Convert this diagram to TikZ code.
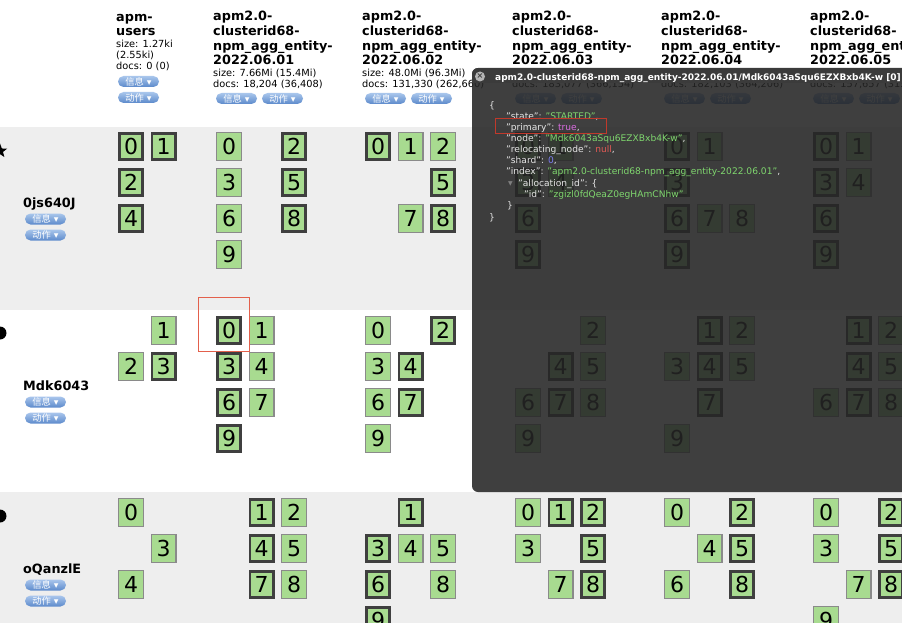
\documentclass[tikz,border=0pt]{standalone}
\usepackage{fontspec}
\setmainfont{DejaVu Sans}
\newfontfamily\cjk{Noto Sans CJK SC}
\usetikzlibrary{shapes.geometric}

\definecolor{rowgray}{HTML}{EEEEEE}
\definecolor{shardgreen}{HTML}{A8DB90}
\definecolor{primborder}{HTML}{3F3F3F}
\definecolor{replborder}{HTML}{8A8A8A}
\definecolor{btntop}{HTML}{A9C6EC}
\definecolor{btnbottom}{HTML}{5C8ACB}
\definecolor{panel}{HTML}{252525}
\definecolor{titlebar}{HTML}{3B3B3B}
\definecolor{closegray}{HTML}{B5B5B5}
\definecolor{jkey}{HTML}{E6E6E6}
\definecolor{jstr}{HTML}{7FD66E}
\definecolor{jbool}{HTML}{D86CE0}
\definecolor{jnull}{HTML}{E25A55}
\definecolor{jnum}{HTML}{7C7CF2}
\definecolor{markred}{HTML}{E3604C}
\definecolor{jsonred}{HTML}{C0392B}

\tikzset{
	shardp/.style = {draw = primborder, line width = 2.6pt, fill = shardgreen,
		minimum width = 23.4pt, minimum height = 26.4pt, inner sep = 0pt,
		font = \fontsize{22}{22}\selectfont},
	shardr/.style = {draw = replborder, line width = 1.2pt, fill = shardgreen,
		minimum width = 24.8pt, minimum height = 27.8pt, inner sep = 0pt,
		font = \fontsize{22}{22}\selectfont},
	btn/.style = {rounded corners = 5.5pt, top color = btntop, bottom color = btnbottom,
		minimum width = 41pt, minimum height = 11pt, inner sep = 0pt,
		text = white, font = \fontsize{9.3}{9.3}\selectfont},
	headtitle/.style = {anchor = base west, inner sep = 0pt, font = \fontsize{12.8}{14.7}\bfseries},
	headinfo/.style = {anchor = base west, inner sep = 0pt, font = \fontsize{9.8}{11}\selectfont},
	hostname/.style = {anchor = base west, inner sep = 0pt, font = \fontsize{12.8}{12.8}\bfseries},
	jline/.style = {anchor = base west, inner sep = 0pt, text = jkey, font = \fontsize{9.1}{9.1}\selectfont},
}

% name, left x, top y, grid columns, shard/type list
\newcommand\shardgrid[5]{%
	\foreach \s/\t in {#5}
		\node[shard\t] (#1-\s) at ({#2+13+32.5*mod(\s,#4)},{#3+14.5+36*int(\s/#4)}) {\s};
}
\newcommand\infolabel{{\cjk 信息}\hspace{3pt}▾}
\newcommand\actlabel{{\cjk 动作}\hspace{3pt}▾}

\begin{document}
\begin{tikzpicture}[x = 1pt, y = -1pt]
	\useasboundingbox (0,0) rectangle (902,623);
	\fill[white] (0,0) rectangle (902,623);
	\fill[rowgray] (0,127) rectangle (902,310);
	\fill[rowgray] (0,492) rectangle (902,623);

	% index headers
	\node[headtitle] (tu-1) at (116,22) {apm-};
	\node[headtitle] (tu-2) at (116,36) {users};
	\node[headinfo] (su-1) at (116,48) {size: 1.27ki};
	\node[headinfo] (su-2) at (116,58.5) {(2.55ki)};
	\node[headinfo] (su-3) at (116,69.5) {docs: 0 (0)};
	\node[btn] (infou) at (138.5,81.5) {\infolabel};
	\node[btn] (actu) at (138.5,97.5) {\actlabel};

	\foreach \x/\d [count=\i] in {216/01, 365/02, 515/03, 664/04, 813/05}{
		\foreach \l/\t [count=\k] in {21/apm2.0-, 36/clusterid68-, 50.5/npm\_agg\_entity-, 65/2022.06.\d}
			\node[headtitle] (t\i-\k) at (\x-3,\l) {\t};
		\node[btn] (info\i) at (\x+20.5,98.5) {\infolabel};
		\node[btn] (act\i) at (\x+66.5,98.5) {\actlabel};
	}
	\node[headinfo] (s1-1) at (213,77) {size: 7.66Mi (15.4Mi)};
	\node[headinfo] (s1-2) at (213,88) {docs: 18,204 (36,408)};
	\node[headinfo] (s2-1) at (362,77) {size: 48.0Mi (96.3Mi)};
	\node[headinfo] (s2-2) at (362,88) {docs: 131,330 (262,660)};
	\node[headinfo] (s3-2) at (512,88) {docs: 183,077 (366,154)};
	\node[headinfo] (s4-2) at (661,88) {docs: 182,103 (364,206)};
	\node[headinfo] (s5-2) at (810,88) {docs: 157,657 (315,};

	% nodes
	\node[star, star points = 5, star point ratio = 2.4, fill = black, minimum size = 15pt, inner sep = 0pt] (master) at (0,151) {};
	\node[circle, fill = black, minimum size = 13pt, inner sep = 0pt] (dotB) at (0,333) {};
	\node[circle, fill = black, minimum size = 13pt, inner sep = 0pt] (dotC) at (0,516) {};
	\foreach \y/\h [count=\i] in {207/0js640J, 390/Mdk6043, 573/oQanzlE}{
		\node[hostname] (host\i) at (23,\y) {\h};
		\node[btn] (hinfo\i) at (45.5,\y+12) {\infolabel};
		\node[btn] (hact\i) at (45.5,\y+28) {\actlabel};
	}

	% shards, row 0js640J
	\shardgrid{ra-u}{118}{132}{2}{0/p,1/p,2/p,4/p}
	\shardgrid{ra-1}{216}{132}{3}{0/r,2/p,3/r,5/p,6/r,8/p,9/r}
	\shardgrid{ra-2}{365}{132}{3}{0/p,1/r,2/r,5/p,7/r,8/p}
	\shardgrid{ra-3}{515}{132}{3}{0/p,1/r,3/p,4/r,6/p,9/p}
	\shardgrid{ra-4}{664}{132}{3}{0/p,1/r,3/p,6/p,7/r,8/r,9/p}
	\shardgrid{ra-5}{813}{132}{3}{0/p,1/r,3/p,4/r,6/p,9/p}
	% shards, row Mdk6043
	\shardgrid{rb-u}{118}{316}{2}{1/r,2/r,3/p}
	\shardgrid{rb-1}{216}{316}{3}{0/p,1/r,3/p,4/r,6/p,7/r,9/p}
	\shardgrid{rb-2}{365}{316}{3}{0/r,2/p,3/r,4/p,6/r,7/p,9/r}
	\shardgrid{rb-3}{515}{316}{3}{2/r,4/p,5/r,6/r,7/p,8/r,9/r}
	\shardgrid{rb-4}{664}{316}{3}{1/p,2/r,3/r,4/p,5/r,7/p,9/r}
	\shardgrid{rb-5}{813}{316}{3}{1/p,2/r,4/p,5/r,6/r,7/p,8/r}
	% shards, row oQanzlE
	\shardgrid{rc-u}{118}{498}{2}{0/r,3/r,4/r}
	\shardgrid{rc-1}{216}{498}{3}{1/p,2/r,4/p,5/r,7/p,8/r}
	\shardgrid{rc-2}{365}{498}{3}{1/p,3/p,4/r,5/r,6/p,8/r,9/p}
	\shardgrid{rc-3}{515}{498}{3}{0/r,1/p,2/p,3/r,5/p,7/r,8/p}
	\shardgrid{rc-4}{664}{498}{3}{0/r,2/p,4/r,5/p,6/r,8/p}
	\shardgrid{rc-5}{813}{498}{3}{0/r,2/p,3/r,5/p,7/r,8/p,9/r}

	\draw[markred, line width = 1pt] (198,297) rectangle (249,351);

	% shard dialog
	\fill[panel, fill opacity = 0.88, rounded corners = 6pt] (472,68) rectangle (940,492);
	\begin{scope}
		\clip[rounded corners = 6pt] (472,68) rectangle (940,492);
		\fill[titlebar] (472,68) rectangle (940,83);
	\end{scope}
	\node[circle, fill = closegray, minimum size = 10pt, inner sep = 0pt, text = titlebar,
		font = \fontsize{8}{8}\bfseries] (close) at (480,76.5) {×};
	\node[anchor = base west, inner sep = 0pt, text = white, font = \fontsize{9}{9}\bfseries] (dtitle)
		at (495,80.5) {apm2.0-clusterid68-npm\_agg\_entity-2022.06.01/Mdk6043aSqu6EZXBxb4K-w [0]};

	\node[jline] (j0) at (489,109) {\{};
	\node[jline] (j1) at (506,120) {"state": \textcolor{jstr}{"STARTED"},};
	\node[jline] (j2) at (506,131) {"primary": \textcolor{jbool}{true},};
	\node[jline] (j3) at (506,142) {"node": \textcolor{jstr}{"Mdk6043aSqu6EZXBxb4K-w"},};
	\node[jline] (j4) at (506,153) {"relocating\_node": \textcolor{jnull}{null},};
	\node[jline] (j5) at (506,164) {"shard": \textcolor{jnum}{0},};
	\node[jline] (j6) at (506,175) {"index": \textcolor{jstr}{"apm2.0-clusterid68-npm\_agg\_entity-2022.06.01"},};
	\node[jline, text = gray, font = \fontsize{6}{6}\selectfont] (jtri) at (508,185.5) {▼};
	\node[jline] (j7) at (518,186) {"allocation\_id": \{};
	\node[jline] (j8) at (524,197) {"id": \textcolor{jstr}{"zgizl0fdQeaZ0egHAmCNhw"}};
	\node[jline] (j9) at (507,208) {\}};
	\node[jline] (j10) at (489,220) {\}};

	\draw[jsonred, line width = 0.8pt] (495,118) rectangle (606,133);

\end{tikzpicture}
\end{document}
